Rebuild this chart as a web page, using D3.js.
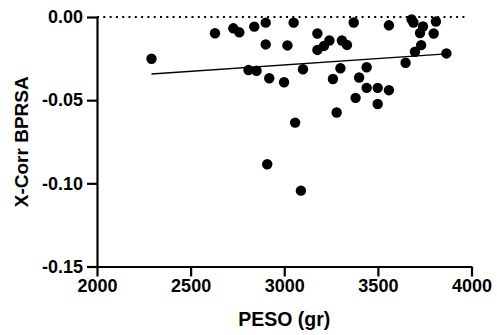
<!DOCTYPE html>
<html>
<head>
<meta charset="utf-8">
<script src="https://cdn.jsdelivr.net/npm/d3@7"></script>
<style>
  body { margin: 0; background: #fff; }
  svg { display: block; }
  text { font-family: "Liberation Sans", Arial, sans-serif; font-weight: bold; fill: #000; }
</style>
</head>
<body>
<svg id="chart" width="497" height="335"></svg>
<script>
// birth weight (gr) vs BPRSA cross-correlation
const peso = [2291, 2630, 2728, 2760, 2840, 2901, 2901, 3017, 3050, 2809, 2852, 2920, 2999, 3100,
  3058, 2909, 3089, 3177, 3177, 3212, 3241, 3308, 3335, 3371, 3300, 3260, 3280, 3381, 3400, 3440,
  3440, 3499, 3499, 3559, 3559, 3648, 3680, 3690, 3741, 3725, 3810, 3798, 3731, 3698, 3866];
const xcorr = [-0.0251, -0.0098, -0.0068, -0.0092, -0.0058, -0.0034, -0.0165, -0.0171, -0.0034,
  -0.0319, -0.0323, -0.0368, -0.0392, -0.0314, -0.0635, -0.0885, -0.1044, -0.0099, -0.0198,
  -0.0174, -0.0141, -0.0141, -0.0168, -0.0033, -0.0308, -0.0373, -0.0574, -0.0486, -0.0364,
  -0.0302, -0.0426, -0.0426, -0.0523, -0.0440, -0.0050, -0.0275, -0.0014, -0.0033, -0.0057,
  -0.0096, -0.0027, -0.0099, -0.0169, -0.0209, -0.0219];

// fitted regression line (ends)
const fitX = [2291, 3866];
const fitY = [-0.0343, -0.0222];

const xTicks = [2000, 2500, 3000, 3500, 4000];
const yTicks = [0, -0.05, -0.10, -0.15];
const yTickLabels = ["0.00", "-0.05", "-0.10", "-0.15"];

const svg = d3.select("#chart");

const x = d3.scaleLinear().domain([2000, 4000]).range([97, 471.5]);
const y = d3.scaleLinear().domain([-0.15, 0]).range([266.5, 17]);

// zero line, dotted
svg.append("line")
  .attr("x1", x(2000)).attr("x2", 468)
  .attr("y1", y(0)).attr("y2", y(0))
  .attr("stroke", "#000").attr("stroke-width", 2)
  .attr("stroke-dasharray", "2 4.3");

// axes
const xAxis = svg.append("g")
  .attr("transform", `translate(0,${y(-0.15)})`)
  .call(d3.axisBottom(x).tickValues(xTicks).tickFormat(d3.format("d")).tickSize(10).tickSizeOuter(0).tickPadding(3));

const yAxis = svg.append("g")
  .attr("transform", `translate(${x(2000)},0)`)
  .call(d3.axisLeft(y).tickValues(yTicks).tickFormat((d, i) => yTickLabels[i]).tickSize(10).tickSizeOuter(0).tickPadding(4));

[xAxis, yAxis].forEach(g => {
  g.attr("font-family", "'Liberation Sans', Arial, sans-serif")
    .attr("font-size", 18)
    .attr("font-weight", "bold");
  g.select(".domain").attr("stroke", "#000").attr("stroke-width", 2.2);
  g.selectAll(".tick line").attr("stroke", "#000").attr("stroke-width", 2.2);
  g.selectAll(".tick text")
    .style("font-weight", "bold")
    .style("font-size", "18px")
    .attr("fill", "#000");
});

// regression line
svg.append("line")
  .attr("x1", x(fitX[0])).attr("y1", y(fitY[0]))
  .attr("x2", x(fitX[1])).attr("y2", y(fitY[1]))
  .attr("stroke", "#000").attr("stroke-width", 1.4);

// points
svg.append("g").selectAll("circle")
  .data(peso)
  .join("circle")
  .attr("cx", d => x(d))
  .attr("cy", (d, i) => y(xcorr[i]))
  .attr("r", 5.2)
  .attr("fill", "#000");

// axis titles
svg.append("text")
  .attr("x", (x(2000) + x(4000)) / 2)
  .attr("y", 326)
  .attr("text-anchor", "middle")
  .style("font-size", "19.5px")
  .text("PESO (gr)");

svg.append("text")
  .attr("transform", `translate(28,${(y(0) + y(-0.15)) / 2}) rotate(-90)`)
  .attr("text-anchor", "middle")
  .style("font-size", "19px")
  .text("X-Corr BPRSA");
</script>
</body>
</html>
